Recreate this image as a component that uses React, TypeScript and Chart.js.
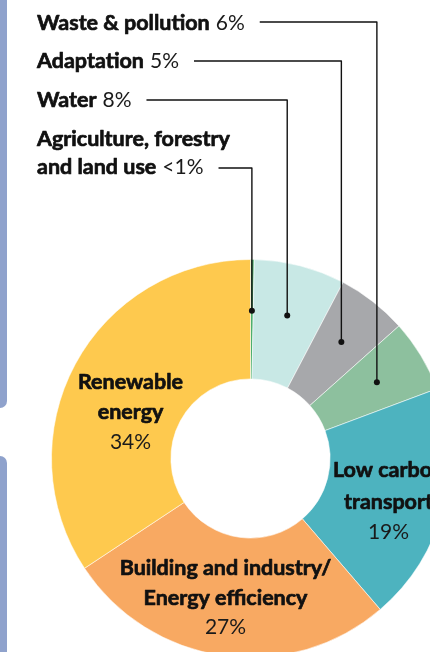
import React, { useEffect, useRef } from "react";
import { Chart, registerables } from "chart.js";

Chart.register(...registerables);

// ---- data ----
const categories = [
  "Agriculture, forestry and land use",
  "Water",
  "Adaptation",
  "Waste & pollution",
  "Low carbon transport",
  "Building and industry/Energy efficiency",
  "Renewable energy",
];
const shares = [0.3, 7.4, 5.7, 5.9, 19.4, 27.0, 34.3];
const shareLabels = ["<1%", "8%", "5%", "6%", "19%", "27%", "34%"];
const sliceColors = [
  "#4caf6e",
  "#c8e8e5",
  "#a7a8ab",
  "#8dc09e",
  "#4db3bf",
  "#f8a962",
  "#fec94e",
];

// label layout (text lines per category)
const calloutTitles = [
  ["Agriculture, forestry", "and land use"],
  ["Water"],
  ["Adaptation"],
  ["Waste & pollution"],
];
const innerTitles: Record<number, string[]> = {
  4: ["Low carbon", "transport"],
  5: ["Building and industry/", "Energy efficiency"],
  6: ["Renewable", "energy"],
};

const FONT = "Lato, 'Open Sans', sans-serif";
const BOLD = `bold 21.5px ${FONT}`;
const REG = `400 21px ${FONT}`;
const INK = "#111111";

// positions for callout text (baselines) and horizontal leader line y
const calloutLayout: Record<number, { x: number; ys: number[]; lineY: number }> = {
  3: { x: 37, ys: [30], lineY: 22 },
  2: { x: 37, ys: [68], lineY: 61 },
  1: { x: 37, ys: [107], lineY: 100 },
  0: { x: 37, ys: [146, 174], lineY: 168 },
};
// inner labels: offsets from donut centre, line spacing
const innerLayout: Record<number, { dx: number; dy: number[] }> = {
  6: { dx: -120, dy: [-76, -46, -16] },
  4: { dx: 138, dy: [12, 44, 74] },
  5: { dx: -25, dy: [110, 140, 169] },
};

function boldText(ctx: CanvasRenderingContext2D, t: string, x: number, y: number) {
  ctx.font = BOLD;
  ctx.fillStyle = INK;
  ctx.strokeStyle = INK;
  ctx.lineWidth = 0.7;
  ctx.lineJoin = "round";
  ctx.fillText(t, x, y);
  ctx.strokeText(t, x, y);
}

const labelPlugin = {
  id: "labels",
  afterDatasetsDraw(chart: any) {
    const ctx = chart.ctx as CanvasRenderingContext2D;
    const meta = chart.getDatasetMeta(0);
    ctx.save();
    // callouts
    Object.keys(calloutLayout).forEach((k) => {
      const i = Number(k);
      const lay = calloutLayout[i];
      const arc = meta.data[i];
      const p = arc.getProps(["x", "y", "startAngle", "endAngle", "innerRadius", "outerRadius"], true);
      const mid = (p.startAngle + p.endAngle) / 2;
      const r = p.innerRadius + 0.57 * (p.outerRadius - p.innerRadius);
      const dx = p.x + Math.cos(mid) * r;
      const dy = p.y + Math.sin(mid) * r;
      const lines = calloutTitles[i];
      let endX = lay.x;
      ctx.textBaseline = "alphabetic";
      ctx.textAlign = "left";
      lines.forEach((t, li) => {
        boldText(ctx, t, lay.x, lay.ys[li]);
        const w = ctx.measureText(t).width;
        if (li === lines.length - 1) {
          ctx.font = REG;
          ctx.fillStyle = "#1a1a1a";
          const sx = lay.x + w + 6;
          ctx.fillText(shareLabels[i], sx, lay.ys[li]);
          endX = sx + ctx.measureText(shareLabels[i]).width;
        }
      });
      ctx.strokeStyle = INK;
      ctx.lineWidth = 1.4;
      ctx.beginPath();
      ctx.moveTo(endX + 15, lay.lineY);
      ctx.lineTo(dx, lay.lineY);
      ctx.lineTo(dx, dy);
      ctx.stroke();
      ctx.beginPath();
      ctx.arc(dx, dy, 3, 0, Math.PI * 2);
      ctx.fillStyle = INK;
      ctx.fill();
    });
    // inner labels
    const c = meta.data[0];
    Object.keys(innerLayout).forEach((k) => {
      const i = Number(k);
      const lay = innerLayout[i];
      const lines = innerTitles[i];
      ctx.textAlign = "center";
      ctx.textBaseline = "middle";
      lines.forEach((t, li) => {
        boldText(ctx, t, c.x + lay.dx, c.y + lay.dy[li]);
      });
      ctx.font = REG;
      ctx.fillStyle = "#1a1a1a";
      ctx.fillText(shareLabels[i], c.x + lay.dx, c.y + lay.dy[lines.length]);
    });
    ctx.restore();
  },
};

export default function App() {
  const ref = useRef<HTMLCanvasElement | null>(null);
  useEffect(() => {
    if (!ref.current) return;
    const chart = new Chart(ref.current, {
      type: "doughnut",
      data: {
        labels: categories,
        datasets: [
          {
            data: shares,
            backgroundColor: sliceColors,
            borderColor: "rgba(255,255,255,0.55)",
            borderWidth: 1,
          },
        ],
      },
      options: {
        responsive: false,
        animation: false,
        cutout: "40%",
        layout: { padding: { left: 51, top: 259, right: 20, bottom: 22 } },
        plugins: {
          legend: { display: false },
          tooltip: { enabled: false },
        },
      },
      plugins: [labelPlugin],
    });
    return () => chart.destroy();
  }, []);

  return (
    <div
      style={{
        position: "absolute",
        left: 0,
        top: 0,
        width: 430,
        height: 652,
        overflow: "hidden",
        background: "#ffffff",
      }}
    >
      <div
        style={{
          position: "absolute",
          left: 0,
          top: 0,
          width: 7,
          height: 408,
          background: "#8fa2cc",
          borderBottomRightRadius: 7,
        }}
      />
      <div
        style={{
          position: "absolute",
          left: 0,
          top: 456,
          width: 7,
          height: 200,
          background: "#8fa2cc",
          borderTopRightRadius: 7,
        }}
      />
      <canvas
        ref={ref}
        width={470}
        height={680}
        style={{ position: "absolute", left: 0, top: 0, width: 470, height: 680 }}
      />
    </div>
  );
}
